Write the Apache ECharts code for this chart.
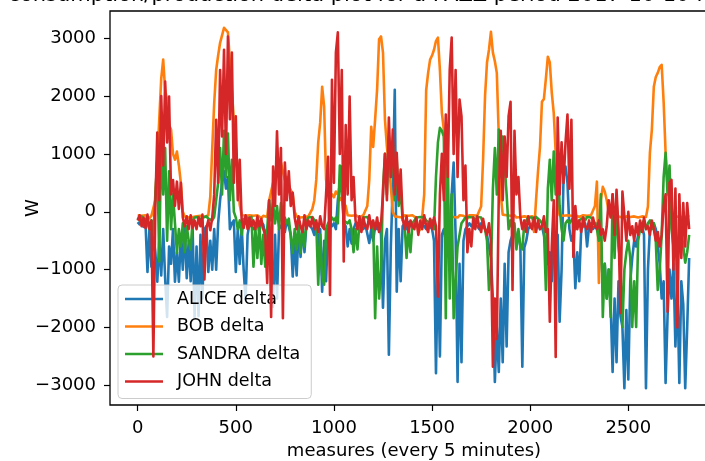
<!DOCTYPE html>
<html><head><meta charset="utf-8">
<script src="https://cdn.jsdelivr.net/npm/echarts@6/dist/echarts.min.js"></script>
<style>html,body{margin:0;padding:0;background:#fff}#c{width:705px;height:461px}</style>
</head><body><div id="c"></div>
<script>
// ---- data (one reading every 10 measures) ----
const seriesNames = ['ALICE delta', 'BOB delta', 'SANDRA delta', 'JOHN delta'];
const measureStep = 10;

const alice = [
-180,-220,-150,-260,-200,-1040,-300,-950,-400,-700,
-1210,-500,-1100,-300,-1150,-1820,-600,-900,-300,-1210,
-700,-1210,-400,-1000,-250,-1150,-500,-1200,-300,-1820,
-600,-1800,-400,-1500,-300,-250,-1040,-500,-1000,-300,
-1000,-200,200,500,700,400,600,-300,-200,-150,
-1040,-300,-900,-250,-1000,-1520,-400,-200,-180,-300,
-250,-200,-350,-180,-220,-400,-300,-250,-500,-1640,
-400,-1500,-300,-250,-200,-350,-150,-250,-400,-1120,
-500,-1100,-300,-780,-250,-700,-200,-180,-250,-300,
-400,-250,-600,-300,-1380,-500,-1200,-300,-200,-250,
-200,-300,200,500,780,-200,-250,-600,-300,-550,
-300,-200,-180,-250,-200,-300,-220,-250,-540,-300,
-500,-250,-300,-200,-400,-1660,-500,-300,-2470,-600,
500,2110,-1380,-300,-1200,-250,-200,-300,-180,-250,
-200,-250,-180,-300,-220,-200,-250,-300,-200,-250,
-300,-500,-2790,-800,-2500,-400,-300,-500,-400,-300,
300,850,-400,-2940,-900,-2600,-500,-300,-250,-200,
-250,-200,-180,-250,-300,-200,-250,-300,-400,-600,
-800,-1500,-2940,-2000,-2770,-1500,-2600,-900,-2330,-700,
-500,-400,-300,-500,-400,-600,-2680,-620,-500,-300,
-250,-200,-300,-250,-200,-300,-250,-400,-600,-900,
-700,-1200,-500,-800,-400,-1900,-1000,600,780,500,
-300,-500,-400,-1320,-700,-1200,-300,-250,-200,-600,
-250,-200,-300,-250,-200,-300,-700,-1200,-900,-1500,
-1000,-1600,-2770,-1500,-2600,-1200,-1800,-1990,-3050,-1700,
-2900,-1200,-800,-500,-600,-400,-300,-250,-400,-3050,
-1000,-300,-250,-200,-300,-600,-900,-1500,-1200,-2960,
-1800,-1000,-1500,-900,-2330,-1300,-2960,-1200,-1600,-3050,
-2000,-800
];

const bob = [
-60,-90,-70,-100,-60,-80,-110,-70,-50,200,
900,1600,2300,2630,2100,1940,1500,1420,1000,900,
1040,800,500,0,-80,-60,-100,-70,-90,-60,
-80,-110,-70,-60,-90,-80,-60,260,1100,1880,
2450,2700,2920,3050,3180,3150,3100,2580,2100,1590,
1100,730,120,-60,-90,-70,-100,-60,-80,-70,
-90,-60,-80,-110,-70,-60,-90,200,350,500,
600,700,800,850,830,550,600,450,430,300,
0,-80,-60,-100,-70,-90,-60,-80,-70,50,
200,550,1200,1540,2160,1820,550,300,250,300,
250,350,300,200,250,150,100,-60,-80,-70,
-90,-60,-80,-100,-70,-60,-90,100,550,1470,
1120,1600,2110,2980,3030,2750,1590,1120,800,430,
0,-80,-60,-90,-70,-100,-60,-80,-70,-90,
-60,-80,-110,-350,-300,-90,300,2100,2400,2630,
2700,2800,2950,3010,2450,1710,1420,550,0,-80,
-60,-90,-70,-100,-60,-80,-70,-90,-120,-60,
-80,-60,-90,-70,-100,90,900,2000,2580,2800,
3110,2750,2600,2400,1300,300,-50,-80,-60,-90,
-70,-80,-60,-100,-70,-90,-60,-80,-70,-90,
-60,-80,-350,210,700,1120,1900,1950,2300,2680,
2580,2060,1710,1020,100,-60,-80,-70,-90,-60,
-80,-70,-100,-60,-80,-90,-70,-60,-80,-70,
-90,-60,-80,100,520,-1230,200,430,350,200,
0,-80,-60,-90,-70,-80,-60,-100,-70,-80,
-60,-90,-70,-80,-60,-100,-70,-80,-60,-90,
90,1020,1420,2160,2330,2400,2500,2540,1900,1020,
430,0,-80,-60,-90,-70,-80,-60,-100,-70,
-80,-60
];

const sandra = [
-100,-150,-80,-200,-120,-90,-300,-150,-400,300,
900,-860,1350,300,1100,-500,700,-300,300,-200,
-710,-300,-600,-200,-700,-250,-500,-650,-150,-100,
-120,-90,-150,-100,-130,-80,-120,-100,-150,-90,
-120,500,1100,300,1400,600,1350,200,900,0,
-100,-300,-150,-400,-120,-200,-100,-150,-90,-950,
-300,-800,-200,-900,-400,-950,-300,200,-150,150,
-200,100,-300,150,-150,-100,-200,-120,-150,-710,
-300,-650,-200,-710,-300,-600,-150,-100,-130,-90,
-120,-200,-1260,-400,-1100,-1260,-300,-200,-150,-100,
-150,-100,-200,800,300,-150,-120,-200,-150,-300,
-700,-300,-650,-200,-150,-100,-130,-90,-150,-120,
-200,-1840,-600,-1500,-1000,400,1000,300,1300,600,
1200,200,900,100,400,-150,-200,-800,-300,-700,
-200,-150,-100,-130,-90,-120,-100,-150,-120,-200,
-150,-300,600,1200,1450,1400,1300,-1840,1000,-1500,
300,-1840,-1200,-600,-400,-200,-150,-100,-130,-90,
-120,-100,-150,-90,-120,-100,-200,-300,-500,-1350,
-1000,400,1100,300,1420,600,1300,800,300,-300,
-150,-300,-200,-650,-300,-600,-650,-200,-150,-100,
-120,-100,-150,-90,-120,-150,-200,-300,-1350,400,
900,200,1040,300,1000,100,-300,-500,-200,-150,
-200,-150,-100,-300,-200,-150,-120,-100,-150,-90,
-120,-100,-150,-200,-300,-500,300,-1820,-900,-1500,
-1000,-1820,300,-800,200,-600,-900,-1990,-1000,-700,
-500,-800,-1990,-1200,-1990,-500,-300,-200,-150,-300,
-200,-150,-300,-200,-500,-1350,-1000,-400,600,1020,
300,800,-300,-600,-400,-800,-500,-300,-600,-880,
-700,-400
];

const john = [
-150,-60,-250,-100,-280,-50,-300,-150,-2500,100,
1370,200,2000,800,2250,1200,1990,300,550,100,
520,50,500,-100,-250,-80,-300,-60,-280,-150,
-300,-100,-250,-50,-1170,-280,-150,-320,-100,300,
1590,500,2450,1300,2800,1000,3030,1600,2750,500,
1650,200,900,-150,-280,-60,-300,-100,-250,-150,
-300,-80,-250,-120,-300,-400,-1230,200,-1820,780,
100,1390,300,1100,-1840,850,200,700,100,330,
-100,-300,-80,-250,-350,-60,-300,-150,-250,-100,
-300,-150,-350,-80,-250,-300,300,950,-1440,2280,
500,2750,3100,1000,2450,-860,1500,300,1990,200,
600,-150,-300,-80,-350,-100,-250,-300,-60,-280,
-150,-300,-100,-350,-200,300,1000,200,1630,600,
1420,300,1020,200,730,-100,-300,-80,-350,-150,
-250,-300,-100,-400,-150,-300,-60,-250,-350,-120,
-300,-100,-250,-1470,300,1000,200,1680,600,2450,
3010,1000,2450,600,1940,1650,200,800,-700,-300,
-600,-100,-300,-80,-250,-350,-120,-300,-400,-200,
-500,-2680,-1500,-2200,300,1400,200,1300,600,1650,
1900,-1350,1400,300,600,-100,-300,-150,-350,-80,
-250,-300,-100,-350,-150,-300,-250,-80,-350,-300,
-1900,-600,200,-2510,1630,300,1200,500,1190,1680,
400,1590,-780,100,-300,-150,-350,-100,-250,-300,
-150,-350,-100,-250,-300,-150,-400,-300,-500,-250,
200,-100,300,-400,380,-300,-1750,350,380,-500,
0,-400,-250,-500,-200,-400,-150,-350,-100,-300,
-250,-400,-150,-300,-500,-350,-600,-400,100,300,
-1730,500,550,-1000,400,-2000,300,-800,150,-600,
150,-300
];

const xTickValues = [0, 500, 1000, 1500, 2000, 2500];
const yTickValues = [-3000, -2000, -1000, 0, 1000, 2000, 3000];
const titleText = 'consumption/production delta plot for a PAZZ period 2017-10-10 for all users';
const xTitle = 'measures (every 5 minutes)';
const yTitle = 'W';

// ---- chart ----
const colors = ['#1f77b4', '#ff7f0e', '#2ca02c', '#d62728'];
const FONT = 'DejaVu Sans';
const FS = 18;
const toPairs = arr => arr.map((v, i) => [i * measureStep, v]);
const allSeries = [alice, bob, sandra, john];

const chart = echarts.init(document.getElementById('c'), null, { renderer: 'canvas' });
chart.setOption({
  animation: false,
  color: colors,
  textStyle: { fontFamily: FONT },
  graphic: [{
    type: 'text', x: 414, y: -4, z: 100,
    style: { text: titleText, fill: '#000', font: '21px "DejaVu Sans"', textAlign: 'center', textVerticalAlign: 'middle', verticalAlign: 'middle' }
  }],
  grid: { left: 110, top: 11, width: 608, height: 394, outerBoundsMode: 'none', containLabel: false,
    show: true, borderColor: '#000', borderWidth: 1.3, backgroundColor: 'transparent' },
  legend: {
    data: seriesNames, orient: 'vertical', left: 118, top: 285,
    icon: 'rect', itemWidth: 38, itemHeight: 2.6, itemGap: 7.5,
    padding: [4, 11, 7, 7],
    backgroundColor: 'rgba(255,255,255,0.8)', borderColor: '#cccccc', borderWidth: 1, borderRadius: 4,
    selectedMode: false,
    textStyle: { fontFamily: FONT, fontSize: 17.5, color: '#000', lineHeight: 20, padding: [0, 0, 0, 9] }
  },
  xAxis: {
    type: 'value', min: -141, max: 2957,
    axisLine: { show: false, onZero: false },
    axisTick: { show: true, inside: false, length: 6, lineStyle: { color: '#000', width: 1.2 }, customValues: xTickValues },
    axisLabel: { color: '#000', fontSize: FS, fontFamily: FONT, margin: 14, customValues: xTickValues,
      formatter: v => String(v) },
    splitLine: { show: false },
    name: xTitle, nameLocation: 'middle', nameGap: 37, nameMoveOverlap: false,
    nameTextStyle: { color: '#000', fontSize: FS, fontFamily: FONT }
  },
  yAxis: {
    type: 'value', min: -3340, max: 3470,
    axisLine: { show: false, onZero: false },
    axisTick: { show: true, inside: false, length: 6, lineStyle: { color: '#000', width: 1.2 }, customValues: yTickValues },
    axisLabel: { color: '#000', fontSize: FS, fontFamily: FONT, margin: 14, customValues: yTickValues,
      formatter: v => (v < 0 ? '\u2212' + Math.abs(v) : String(v)) },
    splitLine: { show: false },
    name: yTitle, nameLocation: 'middle', nameGap: 68, nameMoveOverlap: false,
    nameTextStyle: { color: '#000', fontSize: FS, fontFamily: FONT }
  },
  series: allSeries.map((arr, k) => ({
    name: seriesNames[k], type: 'line', data: toPairs(arr),
    showSymbol: false, symbol: 'none', sampling: null,
    lineStyle: { width: 2.6, color: colors[k], join: 'round' },
    emphasis: { disabled: true }, silent: true, z: 2 + k
  }))
});
</script></body></html>
